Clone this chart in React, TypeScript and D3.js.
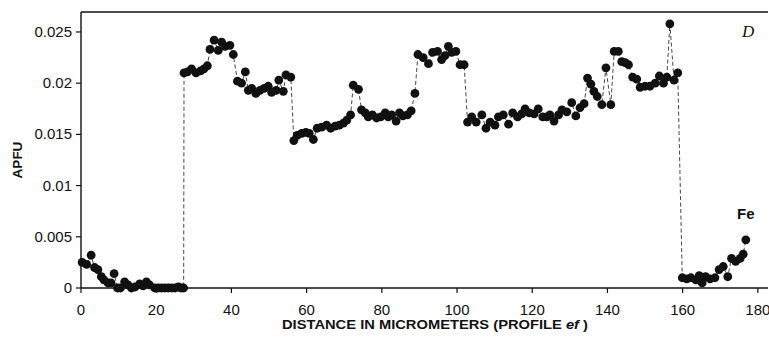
import * as d3 from "d3";

// profile ef, Fe content (apfu) against distance (µm)
const distanceUm = [
  0.3, 1.5, 2.7, 3.6, 4.5, 5.4, 6.1, 7.2, 8.0, 8.8, 9.7, 10.5, 11.6, 12.5, 13.4, 14.4, 15.6, 16.5, 17.4, 18.2,
  19.6, 20.5, 21.4, 22.3, 23.2, 24.1, 25.0, 25.9, 26.6, 27.3,
  27.4, 28.3, 29.4, 30.6, 31.8, 32.7, 33.6, 34.3, 35.4, 36.5, 37.4, 38.3, 39.6, 40.5, 41.6, 42.7, 43.7, 44.5,
  45.4, 46.5, 47.6, 48.7, 49.8, 50.7, 51.9, 52.6, 53.8, 54.5, 55.8, 56.6, 57.5, 58.7, 59.8, 60.7, 61.8, 62.8,
  64.0, 65.3, 66.4, 67.6, 68.7, 69.8, 70.7, 71.7, 72.4, 73.8, 74.6, 75.6, 76.4, 77.5, 78.6, 79.7, 80.9, 81.7,
  82.6, 83.8, 84.7, 85.6, 86.8, 87.8, 88.8, 89.6,
  91.0, 92.4, 93.5, 94.8, 95.9, 96.8, 97.7, 98.6, 99.7, 100.8, 101.9, 102.8, 103.9, 105.1, 106.6, 107.7, 108.8,
  110.1, 111.0, 112.3, 113.7, 114.8, 116.1, 117.2, 118.1, 119.2, 120.5, 121.6, 122.8, 123.9, 124.7, 125.8,
  127.0, 127.9, 129.2, 130.5, 131.6, 132.7, 133.8, 134.7, 135.6, 136.4, 137.3, 138.5, 139.6, 140.9, 141.8,
  142.9, 143.8, 144.7, 145.6, 146.7, 147.8, 148.7, 150.0, 151.3, 152.7, 153.8, 154.9, 155.8, 156.6, 157.7, 158.7,
  159.9, 161.1, 162.2, 163.5, 164.4, 165.2, 166.1, 167.3, 168.6, 169.7, 170.8, 172.0, 173.0, 174.1, 175.3,
  176.1, 176.8,
];

const feApfu = [
  0.0025, 0.0023, 0.0032, 0.002, 0.0018, 0.0011, 0.0008, 0.0005, 0.0005, 0.0014, 0.0, 0.0, 0.0006, 0.0003,
  0.0, 0.0001, 0.0004, 0.0002, 0.0006, 0.0003, 0.0, 0.0, 0.0, 0.0, 0.0, 0.0, 0.0, 0.0001, 0.0, 0.0,
  0.021, 0.0211, 0.0214, 0.021, 0.0212, 0.0214, 0.0217, 0.0233, 0.0242, 0.0232, 0.024, 0.0236, 0.0237, 0.0228,
  0.0202, 0.02, 0.0211, 0.0193, 0.0195, 0.019, 0.0193, 0.0195, 0.0197, 0.0191, 0.0193, 0.0203, 0.0192, 0.0208,
  0.0206, 0.0144, 0.0149, 0.0151, 0.0152, 0.0151, 0.0145, 0.0156, 0.0157, 0.0159, 0.0156, 0.0158, 0.0159,
  0.0161, 0.0164, 0.0169, 0.0198, 0.0194, 0.0174, 0.0171, 0.0167, 0.0169, 0.0166, 0.0167, 0.0171, 0.0167,
  0.0169, 0.0163, 0.0171, 0.0168, 0.0169, 0.0173, 0.019, 0.0228,
  0.0225, 0.0219, 0.023, 0.0231, 0.0223, 0.0227, 0.0236, 0.023, 0.0231, 0.0218, 0.0218, 0.0162, 0.0167,
  0.0162, 0.0169, 0.0156, 0.0162, 0.0159, 0.0167, 0.0169, 0.016, 0.0171, 0.0167, 0.017, 0.0175, 0.0171, 0.017,
  0.0175, 0.0167, 0.0167, 0.0169, 0.0163, 0.0169, 0.0174, 0.0172, 0.0181, 0.0168, 0.0176, 0.018, 0.0205,
  0.0199, 0.0192, 0.0187, 0.0179, 0.0215, 0.0179, 0.0231, 0.0231, 0.0221, 0.022, 0.0218, 0.0206, 0.0204,
  0.0196, 0.0197, 0.0197, 0.02, 0.0207, 0.02, 0.0206, 0.0258, 0.0203, 0.021,
  0.001, 0.0009, 0.001, 0.0008, 0.0012, 0.0005, 0.0011, 0.0009, 0.001, 0.0018, 0.0021, 0.0011, 0.0029,
  0.0026, 0.0029, 0.0033, 0.0047,
];

const xTicks = [0, 20, 40, 60, 80, 100, 120, 140, 160, 180];
const yTicks = [0, 0.005, 0.01, 0.015, 0.02, 0.025];
const yTickLabels = ["0", "0.005", "0.01", "0.015", "0.02", "0.025"];

const width = 769;
const height = 345;
const margin = { top: 12, right: 1, bottom: 57, left: 81 };

const App = () => {
  const x = d3
    .scaleLinear()
    .domain([0, 182.7])
    .range([margin.left, width - margin.right]);
  const y = d3
    .scaleLinear()
    .domain([0, 0.02695])
    .range([height - margin.bottom, margin.top]);

  const points = distanceUm.map((d, i) => ({ d, v: feApfu[i] }));
  const line = d3
    .line<{ d: number; v: number }>()
    .x((p) => x(p.d))
    .y((p) => y(p.v));

  const font = "Arial, 'Liberation Sans', Helvetica, sans-serif";
  const x0 = x(0);
  const y0 = y(0);

  return (
    <svg
      width={width}
      height={height}
      style={{ position: "absolute", left: 0, top: 0, background: "#fff" }}
    >
      {/* frame */}
      <line x1={x0} x2={width - margin.right} y1={margin.top} y2={margin.top} stroke="#111" strokeWidth={1.6} />
      <line x1={x0} x2={x0} y1={margin.top} y2={y0} stroke="#111" strokeWidth={1.4} />
      <line x1={x0} x2={width - margin.right} y1={y0} y2={y0} stroke="#111" strokeWidth={1.6} />

      {/* x axis */}
      {xTicks.map((t) => (
        <g key={t}>
          <line x1={x(t)} x2={x(t)} y1={y0} y2={y0 + 5} stroke="#111" strokeWidth={1.2} />
          <text x={x(t)} y={315} fontFamily={font} fontSize={15} textAnchor="middle" fill="#111">
            {t}
          </text>
        </g>
      ))}

      {/* y axis */}
      {yTicks.map((t, i) => (
        <g key={t}>
          <line x1={x0 - 5} x2={x0} y1={y(t)} y2={y(t)} stroke="#111" strokeWidth={1.2} />
          <text x={72} y={y(t) + 5} fontFamily={font} fontSize={15} textAnchor="end" fill="#111">
            {yTickLabels[i]}
          </text>
        </g>
      ))}

      {/* dashed profile line */}
      <path d={line(points) || ""} fill="none" stroke="#333" strokeWidth={0.9} strokeDasharray="4,2.5" />

      {points.map((p, i) => (
        <circle key={i} cx={x(p.d)} cy={y(p.v)} r={4.4} fill="#111" />
      ))}

      {/* titles */}
      <text
        transform={`translate(22,160) rotate(-90)`}
        fontFamily={font}
        fontSize={13.5}
        fontWeight="bold"
        textAnchor="middle"
        fill="#111"
      >
        APFU
      </text>
      <text
        x={282}
        y={329}
        fontFamily={font}
        fontSize={13}
        fontWeight="bold"
        textLength={306}
        lengthAdjust="spacingAndGlyphs"
        fill="#111"
      >
        DISTANCE IN MICROMETERS (PROFILE <tspan fontStyle="italic">ef</tspan> )
      </text>
      <text x={742} y={37} fontFamily="'Liberation Serif', 'DejaVu Serif', serif" fontSize={17} fontStyle="italic" fill="#111">
        D
      </text>
      <text x={737} y={219} fontFamily={font} fontSize={15} fontWeight="bold" fill="#111">
        Fe
      </text>
    </svg>
  );
};

export default App;
